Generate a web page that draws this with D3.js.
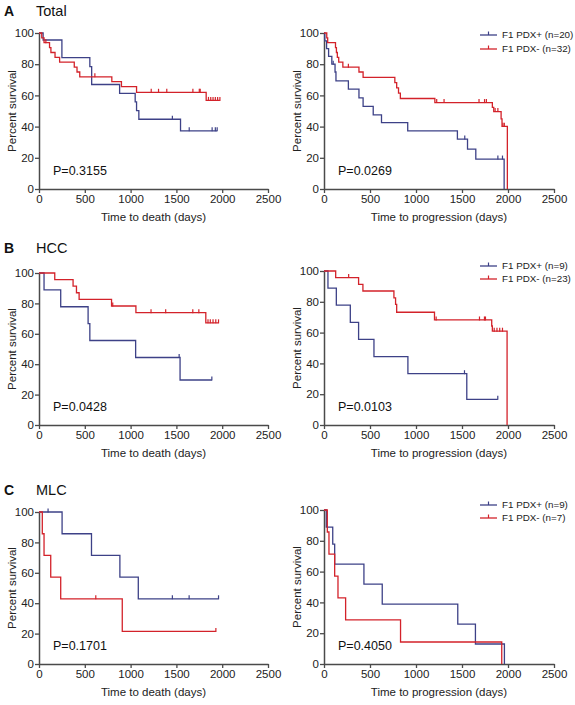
<!DOCTYPE html>
<html><head><meta charset="utf-8">
<script src="https://cdn.jsdelivr.net/npm/d3@7"></script>
<style>
html,body{margin:0;padding:0;background:#fff;}
svg text{font-family:"Liberation Sans",Arial,sans-serif;}
</style></head>
<body>
<svg id="chart" width="575" height="705"></svg>
<script>
// ---------- DATA ----------
const panelLetters = ["A", "B", "C"];
const panelTitles = ["Total", "HCC", "MLC"];
const xTicks = [0, 500, 1000, 1500, 2000, 2500];
const yTicks = [0, 20, 40, 60, 80, 100];
const xTitles = ["Time to death (days)", "Time to progression (days)"];
const yTitle = "Percent survival";
const pValues = [["P=0.3155", "P=0.0269"], ["P=0.0428", "P=0.0103"], ["P=0.1701", "P=0.4050"]];
const legendPos = ["F1 PDX+ (n=20)", "F1 PDX+ (n=9)", "F1 PDX+ (n=9)"];
const legendNeg = ["F1 PDX- (n=32)", "F1 PDX- (n=23)", "F1 PDX- (n=7)"];

// steps: [time (days), survival % after that time]; censors: times of censored subjects
const totalDeathPosSteps = [[0,100],[45,95.5],[250,84.2],[555,78.4],[575,67],[880,61.3],[1050,55.9],[1065,50.3],[1090,44.7],[1545,37.3]];
const totalDeathPosCensor = [1456,1640,1890,1925,1945];
const totalDeathNegSteps = [[0,100],[30,96.9],[55,93.8],[115,90.6],[130,87.5],[175,84.4],[225,81.3],[385,78.1],[415,75],[445,71.9],[795,68.8],[900,65.6],[1065,62],[1825,56.8]];
const totalDeathNegCensor = [75,610,1225,1305,1395,1680,1750,1760,1850,1875,1900,1925,1950,1975];

const totalProgPosSteps = [[0,100],[8,95],[28,90],[50,85],[85,80],[120,75],[130,69.3],[265,64],[380,58.4],[425,53],[535,47.5],[625,42.5],[910,37.3],[1450,32],[1560,25.5],[1650,19.2],[1958,0]];
const totalProgPosCensor = [100,1530,1890,1940];
const totalProgNegSteps = [[0,100],[30,96.9],[40,93.8],[125,90.6],[135,87.5],[145,84.4],[160,81.3],[205,78.1],[380,75],[425,71.6],[770,68.2],[790,64.8],[810,61.4],[830,58],[1205,55.4],[1830,52.3],[1845,49.6],[1925,45],[1935,40.2],[1993,0]];
const totalProgNegCensor = [265,1225,1305,1685,1745,1765,1860,1890,1945,1960];

const hccDeathPosSteps = [[0,100],[55,88.9],[237,77.8],[536,66.7],[555,55.6],[1055,44.4],[1540,29.6]];
const hccDeathPosCensor = [1530,1887];
const hccDeathNegSteps = [[0,100],[172,95.7],[372,91.3],[409,87],[438,82.6],[792,78.3],[1058,73.9],[1821,67.2]];
const hccDeathNegCensor = [805,1223,1383,1679,1745,1845,1870,1900,1930,1960];

const hccProgPosSteps = [[0,100],[43,88.9],[134,77.8],[286,66.7],[376,55.6],[543,44.4],[912,33.3],[1552,16.7]];
const hccProgPosCensor = [1527,1889];
const hccProgNegSteps = [[0,100],[127,95.7],[376,91.3],[423,87],[760,82.6],[778,78.3],[790,73.2],[1201,68.2],[1823,64.3],[1830,60.9],[1990,0]];
const hccProgNegCensor = [268,1219,1690,1744,1755,1850,1880,1910,1940];

const mlcDeathPosSteps = [[0,100],[252,85.7],[573,71.4],[883,57.1],[1084,42.9]];
const mlcDeathPosCensor = [99,1456,1639,1960];
const mlcDeathNegSteps = [[0,100],[36,85.7],[55,71.4],[128,57.1],[237,42.9],[909,21.4]];
const mlcDeathNegCensor = [620,1931];

const mlcProgPosSteps = [[0,100],[25,88.9],[95,77.8],[116,64.8],[434,51.9],[633,38.9],[1454,25.9],[1646,13],[1961,0]];
const mlcProgPosCensor = [];
const mlcProgNegSteps = [[0,100],[36,85.7],[54,71.4],[116,57.1],[152,42.9],[235,28.6],[832,14.3],[1932,0]];
const mlcProgNegCensor = [];

// ---------- LAYOUT ----------
const BLUE = "#3d4187", RED = "#d3222a", AXIS = "#4a4a4a";
const colX = [[39, 268], [324, 554]];
const rowY = [[[189, 33], [189, 33]], [[425, 273], [425, 271]], [[664, 512], [664, 510]]];
const letterY = [11, 248, 490];
const legendY = [[35, 49], [266, 279], [505, 518]];

const curves = [
  [[totalDeathPosSteps, totalDeathPosCensor, totalDeathNegSteps, totalDeathNegCensor],
   [totalProgPosSteps, totalProgPosCensor, totalProgNegSteps, totalProgNegCensor]],
  [[hccDeathPosSteps, hccDeathPosCensor, hccDeathNegSteps, hccDeathNegCensor],
   [hccProgPosSteps, hccProgPosCensor, hccProgNegSteps, hccProgNegCensor]],
  [[mlcDeathPosSteps, mlcDeathPosCensor, mlcDeathNegSteps, mlcDeathNegCensor],
   [mlcProgPosSteps, mlcProgPosCensor, mlcProgNegSteps, mlcProgNegCensor]]
];

const svg = d3.select("#chart");

function levelAt(steps, t) {
  let v = steps[0][1];
  for (const s of steps) { if (s[0] <= t) v = s[1]; }
  return v;
}

function drawCurve(g, x, y, steps, censor, color) {
  const last = steps[steps.length - 1];
  const endT = Math.max(last[0], censor.length ? d3.max(censor) : 0);
  const pts = steps.concat(last[1] > 0 && endT > last[0] ? [[endT, last[1]]] : []);
  const line = d3.line().x(d => x(d[0])).y(d => y(d[1])).curve(d3.curveStepAfter);
  g.append("path").attr("d", line(pts)).attr("fill", "none")
    .attr("stroke", color).attr("stroke-width", 1.3);
  g.selectAll(null).data(censor).enter().append("line")
    .attr("x1", d => x(d)).attr("x2", d => x(d))
    .attr("y1", d => y(levelAt(steps, d)) - 3.5)
    .attr("y2", d => y(levelAt(steps, d)) + 0.5)
    .attr("stroke", color).attr("stroke-width", 1.2);
}

for (let r = 0; r < 3; r++) {
  svg.append("text").attr("x", 4).attr("y", letterY[r]).attr("dy", "0.35em")
    .attr("font-size", 14).attr("font-weight", "bold").attr("fill", "#111").text(panelLetters[r]);
  svg.append("text").attr("x", 36).attr("y", letterY[r]).attr("dy", "0.35em")
    .attr("font-size", 14.5).attr("fill", "#111").text(panelTitles[r]);

  for (let c = 0; c < 2; c++) {
    const x = d3.scaleLinear().domain([0, 2500]).range(colX[c]);
    const y = d3.scaleLinear().domain([0, 100]).range(rowY[r][c]);
    const g = svg.append("g");

    const xa = g.append("g").attr("transform", `translate(0,${y(0)})`)
      .call(d3.axisBottom(x).tickValues(xTicks).tickSize(4).tickSizeOuter(0).tickFormat(d3.format("d")));
    const ya = g.append("g").attr("transform", `translate(${x(0)},0)`)
      .call(d3.axisLeft(y).tickValues(yTicks).tickSize(4).tickSizeOuter(0).tickPadding(1));
    [xa, ya].forEach(a => {
      a.attr("font-size", 11.5);
      a.select(".domain").attr("stroke", AXIS).attr("stroke-width", 1.5);
      a.selectAll(".tick line").attr("stroke", AXIS).attr("stroke-width", 1.3);
      a.selectAll(".tick text").attr("fill", "#222")
        .attr("font-family", "Liberation Sans, Arial, sans-serif");
    });
    xa.selectAll(".tick text").attr("dy", "0.9em").attr("y", 4);

    g.append("text").attr("transform", `translate(${x(0) - 27},${(y(0) + y(100)) / 2}) rotate(-90)`)
      .attr("text-anchor", "middle").attr("dy", "0.35em").attr("font-size", 11.5).attr("fill", "#222")
      .text(yTitle);
    g.append("text").attr("x", (x(0) + x(2500)) / 2).attr("y", y(0) + 28)
      .attr("text-anchor", "middle").attr("dy", "0.35em").attr("font-size", 11.5).attr("fill", "#222")
      .text(xTitles[c]);

    g.append("text").attr("x", x(0) + 14).attr("y", y(0) - 18).attr("dy", "0.35em")
      .attr("font-size", 12.5).attr("fill", "#111").text(pValues[r][c]);

    const [ps, pc, ns, nc] = curves[r][c];
    drawCurve(g, x, y, ps, pc, BLUE);
    drawCurve(g, x, y, ns, nc, RED);

    if (c === 1) {
      [[legendPos[r], BLUE], [legendNeg[r], RED]].forEach(([label, col], i) => {
        const ly = legendY[r][i];
        g.append("line").attr("x1", 480).attr("x2", 497).attr("y1", ly).attr("y2", ly)
          .attr("stroke", col).attr("stroke-width", 1.3);
        g.append("line").attr("x1", 488.5).attr("x2", 488.5).attr("y1", ly - 3.5).attr("y2", ly)
          .attr("stroke", col).attr("stroke-width", 1.2);
        g.append("text").attr("x", 502).attr("y", ly).attr("dy", "0.35em")
          .attr("font-size", 9.8).attr("fill", "#222").text(label);
      });
    }
  }
}
</script>
</body></html>
